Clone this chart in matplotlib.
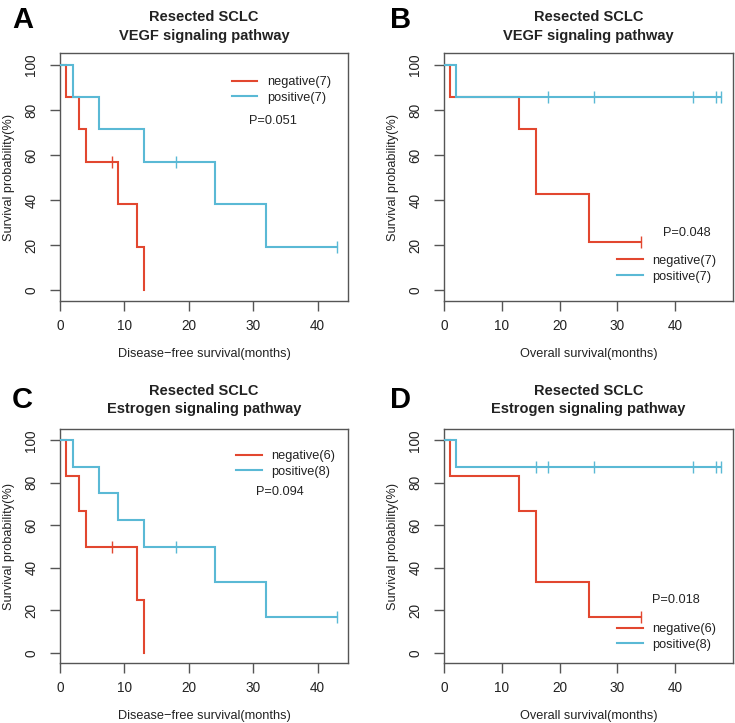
import matplotlib
matplotlib.use('Agg')
import matplotlib.pyplot as plt
from matplotlib.lines import Line2D
import numpy as np

plt.rcParams['font.family'] = ['Liberation Sans', 'DejaVu Sans']

RED = '#E2472F'
BLUE = '#5AB9D5'
TXT = '#222222'
SPINE = '#555555'
FS = 9.2

# ---------------- data ----------------
# Panel A: Disease-free survival, VEGF
a_neg_times = [0, 1, 3, 4, 9, 12, 13]
a_neg_surv = [100, 85.7, 71.4, 57.1, 38.1, 19.0, 0]
a_neg_end = 13
a_neg_censor = [8]
a_pos_times = [0, 2, 6, 13, 24, 32]
a_pos_surv = [100, 85.7, 71.4, 57.1, 38.1, 19.0]
a_pos_end = 43
a_pos_censor = [18, 43]

# Panel B: Overall survival, VEGF
b_neg_times = [0, 1, 13, 16, 25]
b_neg_surv = [100, 85.7, 71.4, 42.9, 21.4]
b_neg_end = 34
b_neg_censor = [34]
b_pos_times = [0, 2]
b_pos_surv = [100, 85.7]
b_pos_end = 48
b_pos_censor = [18, 26, 43, 47, 48]

# Panel C: Disease-free survival, Estrogen
c_neg_times = [0, 1, 3, 4, 12, 13]
c_neg_surv = [100, 83.3, 66.7, 50.0, 25.0, 0]
c_neg_end = 13
c_neg_censor = [8]
c_pos_times = [0, 2, 6, 9, 13, 24, 32]
c_pos_surv = [100, 87.5, 75.0, 62.5, 50.0, 33.3, 16.7]
c_pos_end = 43
c_pos_censor = [18, 43]

# Panel D: Overall survival, Estrogen
d_neg_times = [0, 1, 13, 16, 25]
d_neg_surv = [100, 83.3, 66.7, 33.3, 16.7]
d_neg_end = 34
d_neg_censor = [34]
d_pos_times = [0, 2]
d_pos_surv = [100, 87.5]
d_pos_end = 48
d_pos_censor = [16, 18, 26, 43, 47, 48]

letters = ['A', 'B', 'C', 'D']
pathways = ['VEGF signaling pathway', 'VEGF signaling pathway',
            'Estrogen signaling pathway', 'Estrogen signaling pathway']
xlabels = ['Disease\u2212free survival(months)', 'Overall survival(months)',
           'Disease\u2212free survival(months)', 'Overall survival(months)']
neg_labels = ['negative(7)', 'negative(7)', 'negative(6)', 'negative(6)']
pos_labels = ['positive(7)', 'positive(7)', 'positive(8)', 'positive(8)']
pvalues = ['P=0.051', 'P=0.048', 'P=0.094', 'P=0.018']
xticks = [0, 10, 20, 30, 40]
yticks = [0, 20, 40, 60, 80, 100]

panels = [
    (a_neg_times, a_neg_surv, a_neg_end, a_neg_censor, a_pos_times, a_pos_surv, a_pos_end, a_pos_censor),
    (b_neg_times, b_neg_surv, b_neg_end, b_neg_censor, b_pos_times, b_pos_surv, b_pos_end, b_pos_censor),
    (c_neg_times, c_neg_surv, c_neg_end, c_neg_censor, c_pos_times, c_pos_surv, c_pos_end, c_pos_censor),
    (d_neg_times, d_neg_surv, d_neg_end, d_neg_censor, d_pos_times, d_pos_surv, d_pos_end, d_pos_censor),
]

# ---------------- layout ----------------
W, H = 735, 723
fig = plt.figure(figsize=(W / 100, H / 100), dpi=100)

def frac_box(l, r, t, b):
    return [l / W, 1 - b / H, (r - l) / W, (b - t) / H]

boxes = [frac_box(60, 348, 53, 301), frac_box(444, 733, 53, 301),
         frac_box(60, 348, 429, 663), frac_box(444, 733, 429, 663)]
xmaxs = [44.7, 50, 44.7, 50]
legend_pos = [(0.597, 0.907), (0.599, 0.186), (0.611, 0.91), (0.599, 0.171)]
p_pos = [(0.656, 0.727), (0.758, 0.273), (0.68, 0.731), (0.72, 0.269)]
title_gaps = [(31.6, 12.6), (31.6, 12.6), (33.6, 16), (33.6, 16)]
letter_pos = [(12, 28), (390, 28), (12, 408), (390, 408)]


def km(ax, times, surv, end, censor, color):
    xs = list(times) + [end]
    ys = list(surv) + [surv[-1]]
    ax.step(xs, ys, where='post', color=color, lw=1.5, solid_joinstyle='miter', zorder=3)
    t = np.asarray(times)
    cy = [surv[np.searchsorted(t, c, side='right') - 1] for c in censor]
    ax.plot(censor, cy, ls='none', marker='|', ms=8, mew=1.0, color=color, zorder=4)


for i, ax_box in enumerate(boxes):
    ax = fig.add_axes(ax_box)
    nt, ns, ne, nc, pt, ps, pe, pc = panels[i]
    km(ax, nt, ns, ne, nc, RED)
    km(ax, pt, ps, pe, pc, BLUE)
    ax.set_xlim(0, xmaxs[i])
    ax.set_ylim(-4.8, 105.3)
    ax.set_xticks(xticks)
    ax.set_yticks(yticks)
    for s in ax.spines.values():
        s.set_color(SPINE)
        s.set_linewidth(1.0)
    ax.tick_params(direction='out', length=7, width=1.0, color=SPINE,
                   labelsize=9.8, labelcolor=TXT)
    ax.tick_params(axis='x', pad=6)
    ax.tick_params(axis='y', pad=8.5, labelrotation=90)
    for lbl in ax.get_yticklabels():
        lbl.set_va('center')

    # axis labels
    ax.annotate(xlabels[i], xy=(0.5, 0), xycoords='axes fraction',
                xytext=(0, -53 * 0.72), textcoords='offset points',
                ha='center', va='center', fontsize=FS, color=TXT)
    ax.annotate('Survival probability(%)', xy=(0, 0.5), xycoords='axes fraction',
                xytext=(-51 * 0.72, 0), textcoords='offset points',
                ha='center', va='center', rotation=90, fontsize=FS, color=TXT)

    # titles
    g1, g2 = title_gaps[i]
    ax.annotate('Resected SCLC', xy=(0.5, 1), xycoords='axes fraction',
                xytext=(0, g1 * 0.72), textcoords='offset points',
                ha='center', va='baseline', fontsize=10.5, fontweight='bold', color=TXT)
    ax.annotate(pathways[i], xy=(0.5, 1), xycoords='axes fraction',
                xytext=(0, g2 * 0.72), textcoords='offset points',
                ha='center', va='baseline', fontsize=10.5, fontweight='bold', color=TXT)

    # legend
    handles = [Line2D([], [], color=RED, lw=1.5), Line2D([], [], color=BLUE, lw=1.5)]
    ax.legend(handles, [neg_labels[i], pos_labels[i]], loc='upper left',
              bbox_to_anchor=legend_pos[i], frameon=False, fontsize=FS,
              handlelength=2.0, handletextpad=0.72, labelspacing=0.3,
              borderpad=0, borderaxespad=0, labelcolor=TXT)
    ax.text(p_pos[i][0], p_pos[i][1], pvalues[i], transform=ax.transAxes,
            ha='left', va='center', fontsize=FS, color=TXT)

    # panel letter
    lx, ly = letter_pos[i]
    fig.text(lx / W, 1 - ly / H, letters[i], fontsize=21, fontweight='bold',
             ha='left', va='baseline', color='black')

fig.savefig('out.png', dpi=100)
